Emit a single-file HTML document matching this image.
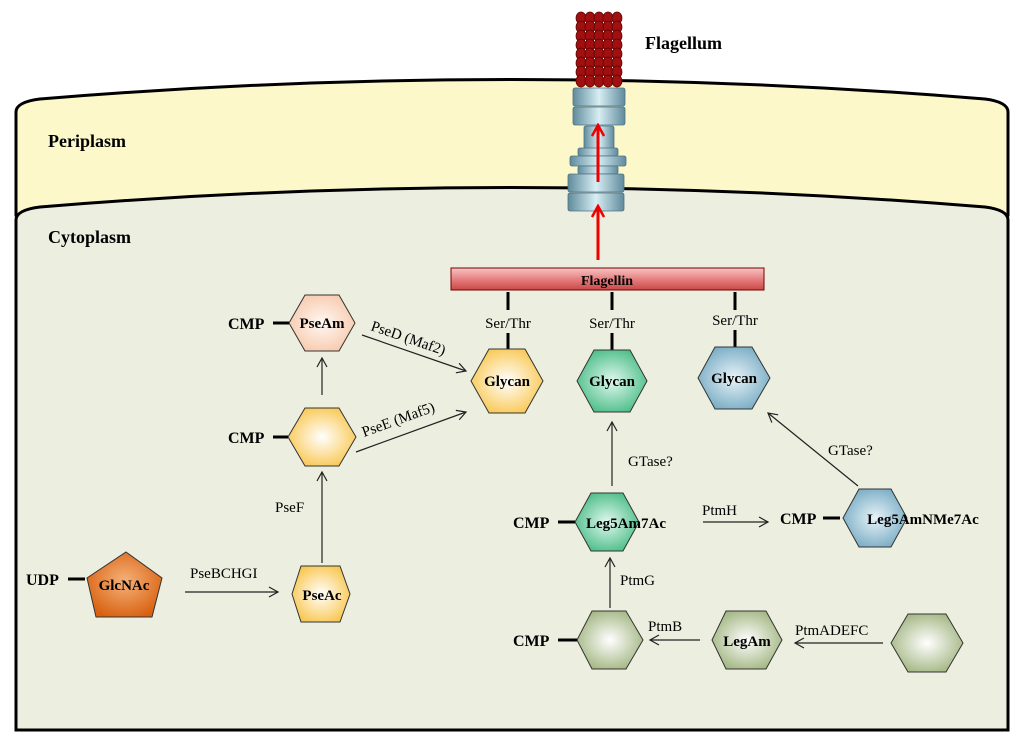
<!DOCTYPE html>
<html><head><meta charset="utf-8"><style>
body{margin:0;background:#fff}
svg{display:block}
text{font-family:"Liberation Serif",serif}
.b{font-weight:bold}
</style></head><body>
<svg width="1024" height="746" viewBox="0 0 1024 746" xmlns="http://www.w3.org/2000/svg">
<defs>
<radialGradient id="gPk" cx="50%" cy="50%" r="60%"><stop offset="0" stop-color="#fff8f3"/><stop offset="1" stop-color="#f7c6a8"/></radialGradient>
<radialGradient id="gYe" cx="50%" cy="50%" r="60%"><stop offset="0" stop-color="#ffffff"/><stop offset="1" stop-color="#f8c344"/></radialGradient>
<radialGradient id="gGr" cx="50%" cy="50%" r="60%"><stop offset="0" stop-color="#e0f8ee"/><stop offset="1" stop-color="#3fb87f"/></radialGradient>
<radialGradient id="gBl" cx="50%" cy="50%" r="60%"><stop offset="0" stop-color="#e8f3f8"/><stop offset="1" stop-color="#6fa6c0"/></radialGradient>
<radialGradient id="gOl" cx="50%" cy="50%" r="60%"><stop offset="0" stop-color="#ffffff"/><stop offset="1" stop-color="#9bb078"/></radialGradient>
<radialGradient id="gDk" cx="50%" cy="45%" r="60%"><stop offset="0" stop-color="#f5b27a"/><stop offset="1" stop-color="#d8600f"/></radialGradient>
<linearGradient id="gBar" x1="0" y1="0" x2="0" y2="1"><stop offset="0" stop-color="#f6c4c4"/><stop offset="0.5" stop-color="#e88080"/><stop offset="1" stop-color="#c84848"/></linearGradient>
<linearGradient id="gRing" x1="0" y1="0" x2="1" y2="0"><stop offset="0" stop-color="#5f8b9c"/><stop offset="0.5" stop-color="#d8eef4"/><stop offset="1" stop-color="#5f8b9c"/></linearGradient>
<marker id="ar" markerWidth="12" markerHeight="12" refX="10" refY="6" orient="auto" markerUnits="userSpaceOnUse"><path d="M1,1 L10,6 L1,11" fill="none" stroke="#222" stroke-width="1.2"/></marker>
<marker id="rar" markerWidth="14" markerHeight="14" refX="12" refY="7" orient="auto" markerUnits="userSpaceOnUse"><path d="M1,1 L12,7 L1,13" fill="none" stroke="#e00" stroke-width="2.5"/></marker>
<g id="row" fill="#a01010" stroke="#5a0000" stroke-width="0.7">
<ellipse cx="581" cy="0" rx="5" ry="6"/><ellipse cx="590" cy="0" rx="5" ry="6"/><ellipse cx="599" cy="0" rx="5" ry="6"/><ellipse cx="608" cy="0" rx="5" ry="6"/><ellipse cx="617" cy="0" rx="5" ry="6"/>
</g>
</defs>
<path d="M16,112 Q16,102 40,99 Q512,60 985,99 Q1008,102 1008,112 L1008,215 L16,215 Z" fill="#fcf8c9" stroke="#000" stroke-width="3"/>
<path d="M16,220 Q16,210 40,207 Q512,168 985,207 Q1008,210 1008,220 L1008,730 L16,730 Z" fill="#ecefe0" stroke="#000" stroke-width="3"/>
<text x="48" y="147" class="b" font-size="18">Periplasm</text>
<text x="48" y="243" class="b" font-size="18">Cytoplasm</text>
<text x="645" y="49" class="b" font-size="18">Flagellum</text>
<use href="#row" y="18"/><use href="#row" y="27"/><use href="#row" y="36"/><use href="#row" y="45"/><use href="#row" y="54"/><use href="#row" y="63"/><use href="#row" y="72"/><use href="#row" y="81"/>
<g fill="url(#gRing)" stroke="#4d7282" stroke-width="0.8">
<rect x="573" y="88" width="52" height="18" rx="2"/>
<rect x="573" y="107" width="52" height="18" rx="2"/>
<rect x="584" y="126" width="30" height="28" rx="2"/>
<rect x="578" y="148" width="40" height="8" rx="2"/>
<rect x="570" y="156" width="56" height="10" rx="2"/>
<rect x="578" y="166" width="40" height="8" rx="2"/>
<rect x="568" y="174" width="56" height="18" rx="2"/>
<rect x="568" y="193" width="56" height="18" rx="2"/>
</g>
<line x1="598" y1="182" x2="598" y2="125" stroke="#e00" stroke-width="3" marker-end="url(#rar)"/>
<line x1="598" y1="260" x2="598" y2="206" stroke="#e00" stroke-width="3" marker-end="url(#rar)"/>
<rect x="451" y="268" width="313" height="22" fill="url(#gBar)" stroke="#700" stroke-width="1"/>
<text x="607" y="285" class="b" font-size="14" text-anchor="middle">Flagellin</text>
<g stroke="#000" stroke-width="3">
<line x1="508" y1="292" x2="508" y2="310"/><line x1="508" y1="333" x2="508" y2="350"/>
<line x1="612" y1="292" x2="612" y2="310"/><line x1="612" y1="333" x2="612" y2="350"/>
<line x1="735" y1="292" x2="735" y2="310"/><line x1="735" y1="330" x2="735" y2="347"/>
</g>
<g font-size="15" text-anchor="middle">
<text x="508" y="328">Ser/Thr</text><text x="612" y="328">Ser/Thr</text><text x="735" y="325">Ser/Thr</text>
</g>
<g stroke="#333" stroke-width="1">
<polygon points="289,323 305,295 339,295 355,323 339,351 305,351" fill="url(#gPk)"/>
<polygon points="288,437 305,408 339,408 356,437 339,466 305,466" fill="url(#gYe)"/>
<polygon points="471,381 489,349 525,349 543,381 525,413 489,413" fill="url(#gYe)"/>
<polygon points="577,381 594,350 630,350 647,381 630,412 594,412" fill="url(#gGr)"/>
<polygon points="698,378 715,347 752,347 770,378 752,409 715,409" fill="url(#gBl)"/>
<polygon points="575,522 591,493 623,493 639,522 623,551 591,551" fill="url(#gGr)"/>
<polygon points="843,518 859,489 891,489 907,518 891,547 859,547" fill="url(#gBl)"/>
<polygon points="292,594 301,566 340,566 350,594 340,622 301,622" fill="url(#gYe)"/>
<polygon points="577,640 592,611 626,611 643,640 626,669 592,669" fill="url(#gOl)"/>
<polygon points="712,640 726,611 766,611 782,640 766,669 726,669" fill="url(#gOl)"/>
<polygon points="891,643 908,614 946,614 963,643 946,672 908,672" fill="url(#gOl)"/>
<polygon points="126,552 162,578 152,617 96,617 87,578" fill="url(#gDk)"/>
</g>
<g stroke="#000" stroke-width="3">
<line x1="273" y1="323" x2="289" y2="323"/><line x1="273" y1="437" x2="288" y2="437"/>
<line x1="558" y1="522" x2="575" y2="522"/><line x1="823" y1="518" x2="840" y2="518"/>
<line x1="558" y1="640" x2="577" y2="640"/><line x1="68" y1="579" x2="85" y2="579"/>
</g>
<g class="b" font-size="16">
<text x="228" y="329">CMP</text><text x="228" y="443">CMP</text>
<text x="513" y="528">CMP</text><text x="780" y="524">CMP</text>
<text x="513" y="646">CMP</text><text x="26" y="585">UDP</text>
</g>
<g class="b" font-size="15" text-anchor="middle">
<text x="322" y="328">PseAm</text>
<text x="507" y="386">Glycan</text><text x="612" y="386">Glycan</text><text x="734" y="383">Glycan</text>
<text x="626" y="528">Leg5Am7Ac</text><text x="923" y="524">Leg5AmNMe7Ac</text>
<text x="322" y="600">PseAc</text><text x="747" y="646">LegAm</text>
<text x="124" y="590">GlcNAc</text>
</g>
<g stroke="#222" stroke-width="1.2" fill="none" marker-end="url(#ar)">
<line x1="362" y1="335" x2="466" y2="371"/>
<line x1="356" y1="452" x2="466" y2="412"/>
<line x1="322" y1="395" x2="322" y2="358"/>
<line x1="322" y1="563" x2="322" y2="472"/>
<line x1="185" y1="592" x2="278" y2="592"/>
<line x1="612" y1="486" x2="612" y2="422"/>
<line x1="610" y1="608" x2="610" y2="558"/>
<line x1="703" y1="522" x2="768" y2="522"/>
<line x1="700" y1="640" x2="650" y2="640"/>
<line x1="883" y1="643" x2="795" y2="643"/>
<line x1="858" y1="486" x2="768" y2="413"/>
</g>
<g font-size="15">
<text x="370" y="330" transform="rotate(19 370 330)">PseD (Maf2)</text>
<text x="364" y="437" transform="rotate(-20 364 437)">PseE (Maf5)</text>
<text x="275" y="512">PseF</text>
<text x="190" y="578">PseBCHGI</text>
<text x="628" y="466">GTase?</text>
<text x="828" y="455">GTase?</text>
<text x="702" y="515">PtmH</text>
<text x="620" y="585">PtmG</text>
<text x="648" y="631">PtmB</text>
<text x="795" y="635">PtmADEFC</text>
</g>
</svg>
</body></html>
